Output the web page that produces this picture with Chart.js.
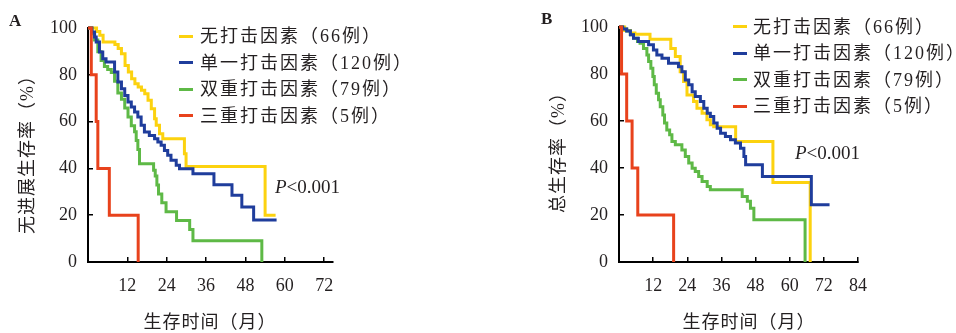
<!DOCTYPE html>
<html>
<head>
<meta charset="utf-8">
<script src="https://cdn.jsdelivr.net/npm/chart.js@4.4.1/dist/chart.umd.min.js"></script>
<style>
html,body{margin:0;padding:0;background:#fff;}
body{width:956px;height:333px;position:relative;overflow:hidden;font-family:"Liberation Serif","Noto Sans CJK SC",serif;color:#231f20;}
canvas{position:absolute;top:0;}
.t{position:absolute;white-space:nowrap;line-height:24px;height:24px;}
.sw{position:absolute;height:3px;}
</style>
</head>
<body>
<canvas id="cA" width="478" height="333" style="left:0px"></canvas>
<canvas id="cB" width="478" height="333" style="left:478px"></canvas>
<script>
// ---------- data ----------
const seriesNames = ['无打击因素（66例）', '单一打击因素（120例）', '双重打击因素（79例）', '三重打击因素（5例）'];
const yTickValues = [0, 20, 40, 60, 80, 100];
const xTickValuesA = [0, 12, 24, 36, 48, 60, 72];
const xTickValuesB = [0, 12, 24, 36, 48, 60, 72, 84];
const panelLabels = ['A', 'B'];
const yTitles = ['无进展生存率（%）', '总生存率（%）'];
const xTitle = '生存时间（月）';
const pText = '<0.001';

// Panel A: progression-free survival (months, %)
const pfsNoneT = [0, 2.6, 3.6, 4.6, 8.2, 9.2, 10.2, 11.3, 12.3, 13.3, 14.3, 15.3, 16.3, 17.3, 18.3, 19.3, 20.3, 20.8, 21.8, 22.8, 29.4, 29.9, 54, 57.2];
const pfsNoneS = [100, 98.5, 96.9, 94, 92.9, 91.2, 89, 84, 81.2, 78.3, 76.2, 74.8, 73.4, 71.9, 69.1, 65.5, 61.2, 58.4, 54.8, 52.7, 46.3, 40.8, 20, 20];
const pfsSingleT = [0, 1.2, 2.0, 2.5, 3.5, 4.5, 5.5, 8.1, 9.1, 10.2, 11.2, 12.2, 13.2, 14.2, 15.2, 16.2, 17.2, 18.7, 20.3, 21.3, 22.3, 23.3, 24.3, 25.3, 26.9, 27.9, 32, 38.4, 43.9, 46.9, 50.5, 57.5];
const pfsSingleS = [100, 98.3, 96.2, 94, 89.7, 86.9, 85.5, 81.2, 76.9, 74, 71.2, 68.4, 66.2, 64.1, 62, 58.4, 55.6, 54.1, 52.7, 51.3, 49.9, 47.7, 45.6, 43.5, 41.3, 39.9, 37.7, 33, 28.5, 23.5, 18, 18];
const pfsDoubleT = [0, 1.2, 2.0, 3.0, 4.0, 5.0, 6.0, 7.1, 8.1, 9.1, 10.2, 11.2, 12.2, 13.2, 14.2, 14.7, 15.2, 15.7, 20.0, 20.5, 21.0, 21.5, 22.5, 23.8, 27.0, 31.0, 32.0, 53.0];
const pfsDoubleS = [100, 97.5, 94.9, 89.9, 86.1, 83.5, 82.3, 81, 77.2, 72.2, 69.6, 65.8, 62, 58.2, 55.7, 51.9, 48.1, 42, 39.2, 36.7, 32.9, 29.1, 25.3, 21.5, 17.7, 13.9, 9.1, 0];
const pfsTripleT = [0, 1, 2.5, 3, 6.5, 15.3];
const pfsTripleS = [100, 80, 60, 40, 20, 0];

// Panel B: overall survival (months, %)
const osNoneT = [0, 2, 4, 5.6, 10.9, 18.2, 19.8, 21.5, 22.7, 23.9, 26.2, 27.4, 29.2, 30.9, 32.1, 33.3, 41, 54.1, 67.2];
const osNoneS = [100, 98.5, 97.5, 96.9, 94.8, 90.9, 87.4, 81, 76.8, 71.1, 68.3, 65.4, 63.3, 60.5, 58.4, 57.6, 51.3, 33.8, 0];
const osSingleT = [0, 1.3, 2.7, 4.0, 5.1, 6.8, 10.4, 12.1, 13.3, 15.1, 17.4, 20.9, 22.1, 23.3, 24.5, 25.7, 26.8, 28.6, 29.8, 31.0, 32.1, 33.3, 34.5, 35.7, 37.4, 39.2, 40.9, 42.7, 43.9, 44.5, 50.4, 67.6, 74.0];
const osSingleS = [100, 99.2, 98.3, 96.7, 95.2, 93.8, 92.4, 90.2, 88.1, 86.7, 84.6, 83.1, 81, 77.5, 75.4, 72.5, 70.4, 68.3, 65.4, 63.3, 61.9, 59.1, 56.9, 54.8, 53.4, 52, 50.6, 48.4, 44.9, 41.4, 36.4, 24.4, 24.4];
const osDoubleT = [0, 1.3, 2.7, 4.0, 5.1, 6.5, 7.4, 8.6, 9.8, 10.4, 11.2, 11.9, 12.4, 13.1, 13.9, 14.5, 15.4, 16.0, 16.8, 17.8, 18.6, 19.8, 22.1, 23.3, 24.5, 25.7, 26.8, 28.0, 29.2, 31.0, 32.1, 43.3, 45.1, 46.2, 47.4, 65.4];
const osDoubleS = [100, 99.2, 98.3, 96.7, 95.2, 93.8, 93.1, 90.9, 88.1, 85.3, 82.4, 78.9, 75.4, 71.8, 69, 66.1, 62.6, 59.1, 56.2, 54.1, 51.3, 49.9, 47.7, 44.9, 42.1, 39.9, 38.5, 36.4, 34.3, 32.1, 30.7, 27.9, 25.8, 22.9, 18, 0];
const osTripleT = [0, 0.9, 2.7, 4.6, 6.6, 19.2];
const osTripleS = [100, 80, 60, 40, 20, 0];

// ---------- styling ----------
const colors = ['#FCD20F', '#1F3D9C', '#5EB946', '#E8421C'];
const drawOrder = [3, 1, 2, 0];
const inkColor = '#231f20';
const tickFont = {family: '"Liberation Serif", serif', size: 18};

function pts(t, s) { return t.map((v, i) => ({x: v, y: s[i]})); }

function makeChart(id, series, xMax, xTicks, pad) {
  const datasets = series.map((d, i) => ({
    label: seriesNames[i],
    data: pts(d[0], d[1]),
    borderColor: colors[i],
    backgroundColor: colors[i],
    borderWidth: 3,
    pointRadius: 0,
    stepped: true,
    fill: false,
    tension: 0,
    order: drawOrder[i],
    borderCapStyle: 'butt',
    borderJoinStyle: 'miter',
    clip: false
  }));
  return new Chart(document.getElementById(id), {
    type: 'line',
    data: {datasets},
    options: {
      responsive: false,
      animation: false,
      devicePixelRatio: 1,
      layout: {padding: pad},
      plugins: {legend: {display: false}, tooltip: {enabled: false}},
      scales: {
        x: {
          type: 'linear', min: 0, max: xMax,
          afterBuildTicks: s => { s.ticks = xTicks.map(v => ({value: v})); },
          afterFit: s => { s.height = 71; },
          border: {display: true, color: '#000', width: 2},
          grid: {display: true, drawOnChartArea: false, drawTicks: true, tickLength: -5, color: '#000', lineWidth: 1.5},
          ticks: {font: tickFont, color: inkColor, padding: 18, maxRotation: 0, autoSkip: false,
                  callback: v => (v === 0 ? '' : String(v))}
        },
        y: {
          type: 'linear', min: 0, max: 100,
          afterBuildTicks: s => { s.ticks = yTickValues.map(v => ({value: v})); },
          afterFit: s => { s.width = 72; },
          border: {display: true, color: '#000', width: 2},
          grid: {display: true, drawOnChartArea: false, drawTicks: true, tickLength: -5, color: '#000', lineWidth: 1.5},
          ticks: {font: tickFont, color: inkColor, padding: 16, callback: v => String(v)}
        }
      }
    }
  });
}

makeChart('cA', [[pfsNoneT, pfsNoneS], [pfsSingleT, pfsSingleS], [pfsDoubleT, pfsDoubleS], [pfsTripleT, pfsTripleS]],
  74.7, xTickValuesA, {left: 16, right: 145, top: 28, bottom: 0});
makeChart('cB', [[osNoneT, osNoneS], [osSingleT, osSingleS], [osDoubleT, osDoubleS], [osTripleT, osTripleS]],
  84, xTickValuesB, {left: 69, right: 98, top: 27, bottom: 0});

// ---------- text annotations (HTML) ----------
function addText(html, x, cy, style) {
  const d = document.createElement('div');
  d.className = 't';
  d.innerHTML = html;
  d.style.left = x + 'px';
  d.style.top = (cy - 12) + 'px';
  Object.assign(d.style, style || {});
  document.body.appendChild(d);
  return d;
}
function addCentered(text, cx, cy, style) {
  const d = document.createElement('div');
  d.className = 't';
  d.textContent = text;
  d.style.left = cx + 'px';
  d.style.top = (cy - 12) + 'px';
  d.style.transform = 'translateX(-50%)';
  Object.assign(d.style, style || {});
  document.body.appendChild(d);
  return d;
}
const cjkStyle = {fontSize: '18px', letterSpacing: '1px'};
const legendStyle = {fontSize: '18px', letterSpacing: '2px'};

// panel letters
addText(panelLabels[0], 9, 21, {fontSize: '17px', fontWeight: 'bold'});
addText(panelLabels[1], 541, 19, {fontSize: '17px', fontWeight: 'bold'});

// axis titles
function yTitle(text, cx, cy) {
  const d = document.createElement('div');
  d.className = 't';
  d.textContent = text;
  Object.assign(d.style, cjkStyle);
  document.body.appendChild(d);
  const w = d.offsetWidth;
  d.style.left = (cx - w / 2) + 'px';
  d.style.top = (cy - 12) + 'px';
  d.style.transform = 'rotate(-90deg)';
  d.style.transformOrigin = '50% 50%';
}
yTitle(yTitles[0], 27, 150);
yTitle(yTitles[1], 558, 148);
addCentered(xTitle, 210, 322, cjkStyle);
addCentered(xTitle, 749, 322, cjkStyle);

// legends
function legend(lineX, textX, rows) {
  seriesNames.forEach((name, i) => {
    const s = document.createElement('div');
    s.className = 'sw';
    s.style.left = lineX + 'px';
    s.style.width = '14px';
    s.style.top = (rows[i] - 1.5) + 'px';
    s.style.background = colors[i];
    document.body.appendChild(s);
    addText(name, textX, rows[i], legendStyle);
  });
}
legend(179, 200, [36, 62.5, 89, 115.5]);
legend(733, 753, [26.5, 53, 79.5, 106]);

// p values
addText('<i>P</i>' + pText.replace('<', '&lt;'), 275, 187, {fontSize: '19px'});
addText('<i>P</i>' + pText.replace('<', '&lt;'), 795, 153, {fontSize: '19px'});
</script>
</body>
</html>
